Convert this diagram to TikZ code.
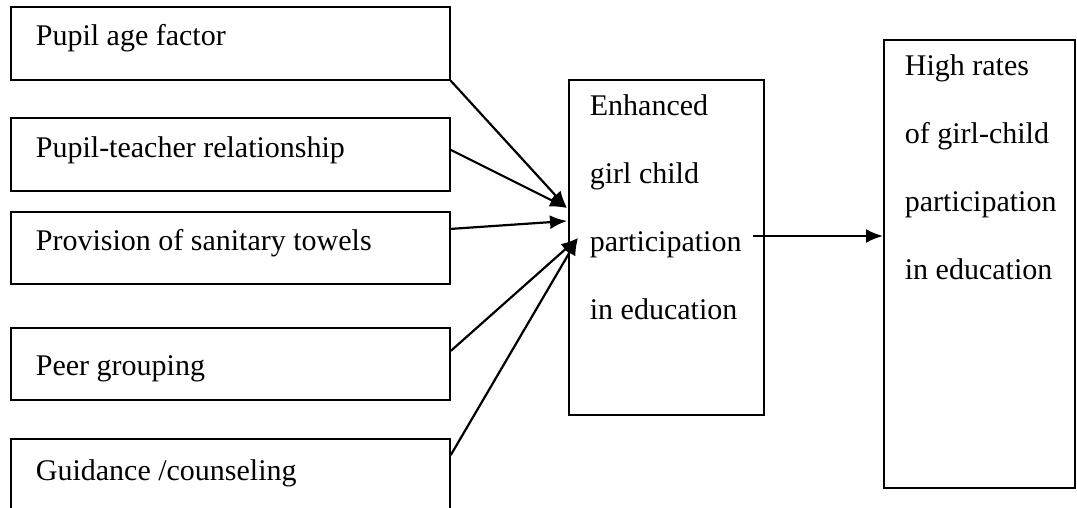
\documentclass[tikz,border=0pt]{standalone}
\usepackage{fontspec}
\setmainfont{Liberation Serif}
\usetikzlibrary{positioning,arrows.meta}
\tikzstyle{canvas} = [x = 1pt, y = -1pt]
\tikzstyle{boxStyle} = [draw, line width=1.8pt, inner sep=0pt, anchor=north west, font=\fontsize{30}{67.7}\selectfont]
\tikzstyle{flowArrow} = [line width=2.2pt, -{Latex[length=17pt,width=14pt]}]
\newcommand{\boxText}[5]{\parbox[c][#1][t]{#2}{\raggedright\leftskip=#3\rule{0pt}{#4}#5}}

\begin{document}
\begin{tikzpicture}[canvas]
        \useasboundingbox (0,0) rectangle (1077,508);
        \clip (0,0) rectangle (1077,508);

        % factors
        \node[boxStyle] (age) at (10,6) {\boxText{73pt}{439pt}{25pt}{39pt}{Pupil age factor}};
        \node[boxStyle] (rel) at (10,117) {\boxText{73pt}{439pt}{25pt}{40pt}{Pupil-teacher relationship}};
        \node[boxStyle] (san) at (10,211) {\boxText{72pt}{439pt}{25pt}{39pt}{Provision of sanitary towels}};
        \node[boxStyle] (peer) at (10,327) {\boxText{72pt}{439pt}{25pt}{48pt}{Peer grouping}};
        \node[boxStyle] (guide) at (10,438) {\boxText{90pt}{439pt}{25pt}{42pt}{Guidance /counseling}};

        % outcomes
        \node[boxStyle] (mid) at (568,79) {\boxText{335pt}{195pt}{21pt}{36pt}{Enhanced\\girl child\\participation\\in education}};
        \node[boxStyle] (high) at (883,39) {\boxText{448pt}{191pt}{21pt}{36pt}{High rates\\of girl-child\\participation\\in education}};

        \coordinate (tipA) at (567,208);
        \coordinate (tipB) at (567,221);
        \coordinate (tipC) at (578,238);
        \coordinate (outStart) at (753,236);

        \draw[flowArrow] (age.south east) -- (tipA);
        \draw[flowArrow] ([yshift=4.5pt]rel.east) -- (tipA);
        \draw[flowArrow] ([yshift=19pt]san.east) -- (tipB);
        \draw[flowArrow] ([yshift=13pt]peer.east) -- (tipC);
        \draw[flowArrow] ([yshift=-17pt]guide.north east) -- (tipC);
        \draw[flowArrow] (outStart) -- (outStart -| high.west);
      \end{tikzpicture}
\end{document}
